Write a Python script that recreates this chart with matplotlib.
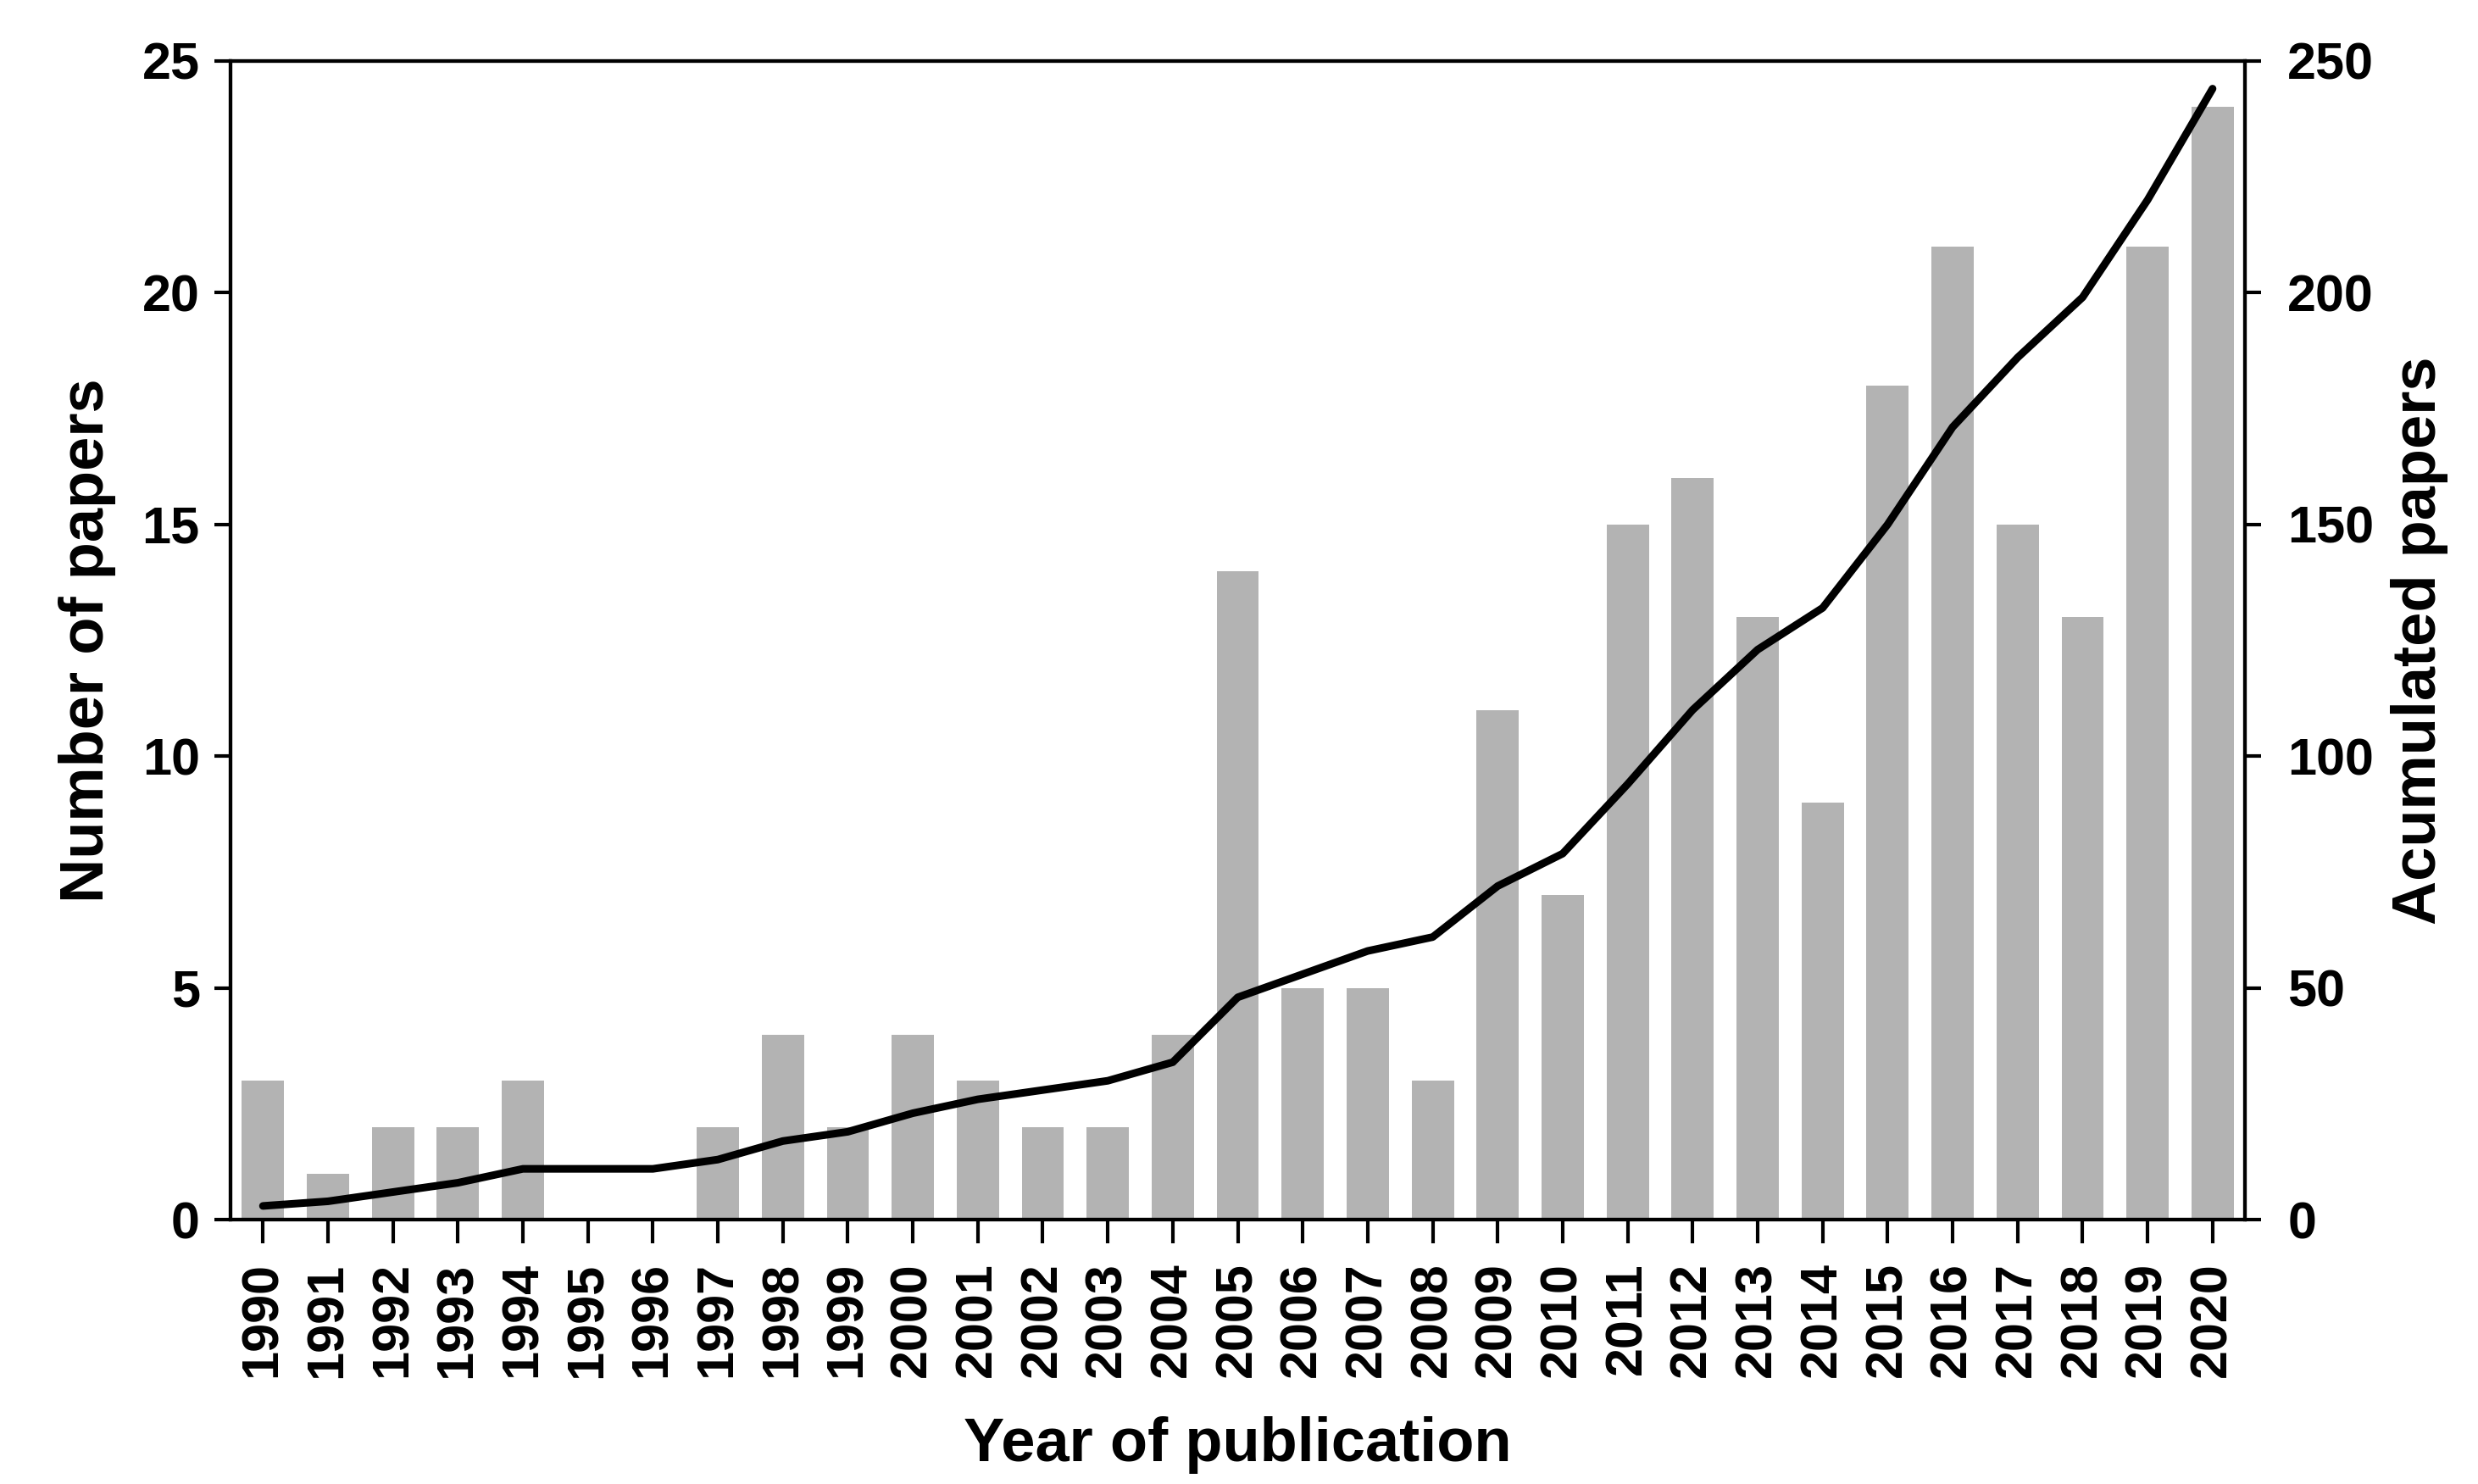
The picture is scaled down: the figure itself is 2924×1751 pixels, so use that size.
import matplotlib.pyplot as plt
import numpy as np

plt.rcParams['font.family'] = ['Liberation Sans', 'DejaVu Sans']
plt.rcParams['font.weight'] = 'bold'

years = [str(y) for y in range(1990, 2021)]
papers = [3, 1, 2, 2, 3, 0, 0, 2, 4, 2, 4, 3, 2, 2, 4, 14, 5, 5, 3, 11,
          7, 15, 16, 13, 9, 18, 21, 15, 13, 21, 24]
accumulated = np.cumsum(papers)

x = np.arange(len(years))

fig = plt.figure(figsize=(29.24, 17.51), dpi=100)
ax = fig.add_axes([0.093, 0.178, 0.813, 0.781])
ax.bar(x, papers, width=0.65, color='#b3b3b3', zorder=1)
ax.set_xlim(-0.5, len(years) - 0.5)
ax.set_ylim(0, 25)
ax.set_yticks([0, 5, 10, 15, 20, 25])
ax.set_xticks(x)
ax.set_xticklabels(years, rotation=90)

ax2 = ax.twinx()
ax2.plot(x, accumulated, color='black', linewidth=6.5, solid_capstyle='round',
         solid_joinstyle='round')
ax2.set_ylim(0, 250)
ax2.set_yticks([0, 50, 100, 150, 200, 250])

for a in (ax, ax2):
    for s in a.spines.values():
        s.set_linewidth(3)
ax.tick_params(axis='x', direction='out', length=20, width=3, labelsize=44, pad=16)
ax.tick_params(axis='y', direction='out', length=14, width=3, labelsize=44, pad=12)
ax2.tick_params(axis='y', direction='out', length=14, width=3, labelsize=44, pad=22)

ax.set_xlabel('Year of publication', fontsize=52, fontweight='bold', labelpad=33)
ax.set_ylabel('Number of papers', fontsize=52, fontweight='bold', labelpad=22)
ax2.set_ylabel('Acumulated papers', fontsize=52, fontweight='bold', labelpad=14)

fig.savefig('out.png', dpi=100)
